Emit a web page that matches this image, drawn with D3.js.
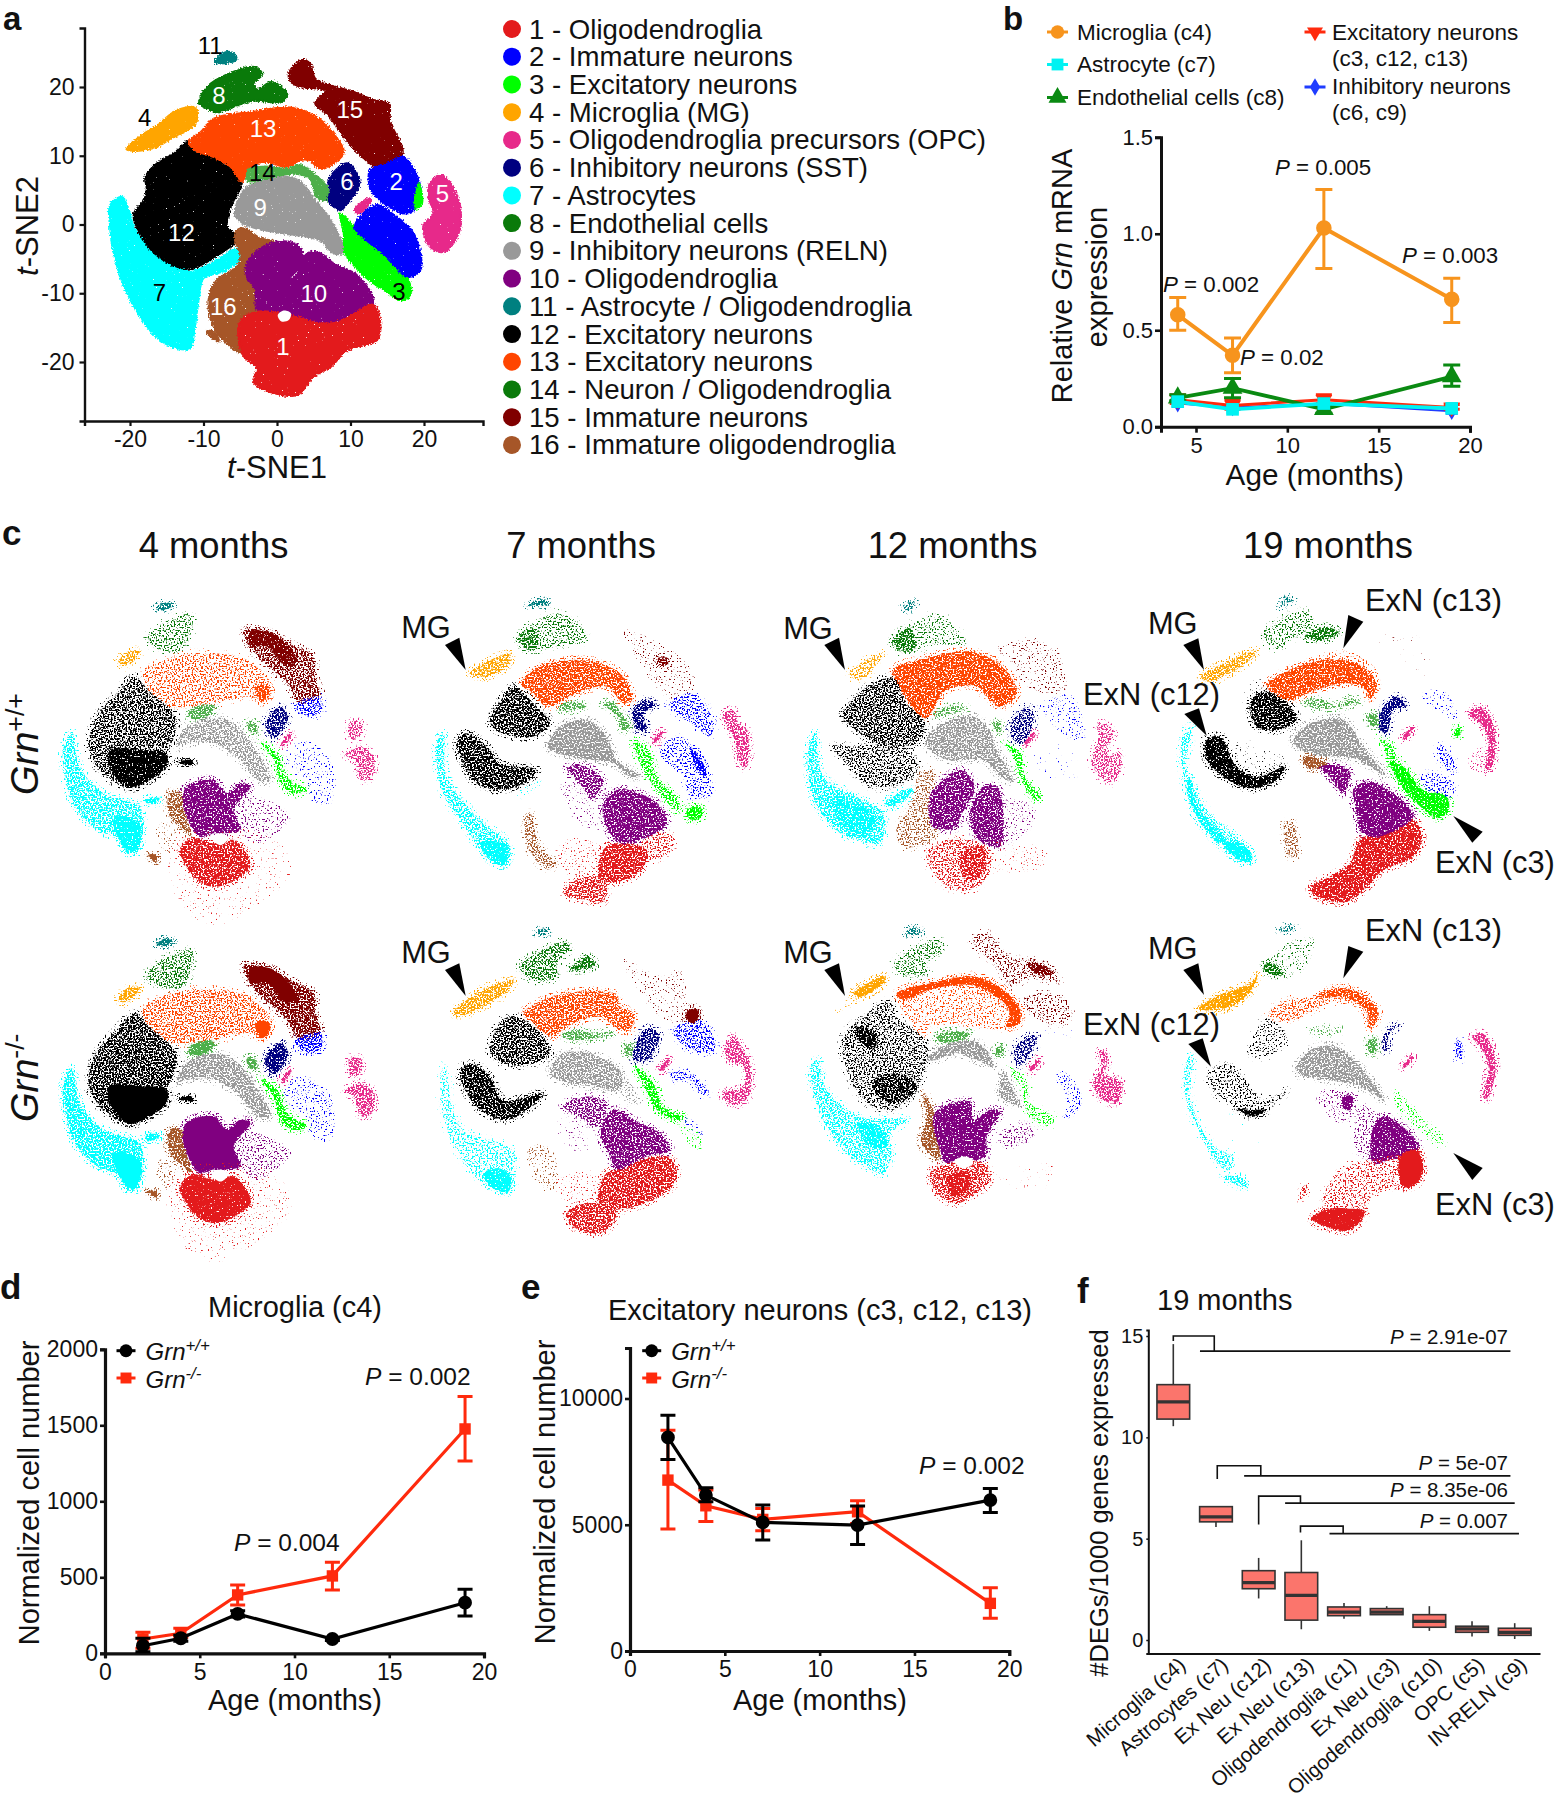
<!DOCTYPE html>
<html><head><meta charset="utf-8">
<script src="https://cdn.jsdelivr.net/npm/d3@7"></script>
<style>
html,body{margin:0;padding:0;background:#fff}
svg{display:block}
text{font-family:"Liberation Sans",Arial,sans-serif;fill:#111}
</style></head><body><svg id="c" width="1554" height="1800" viewBox="0 0 1554 1800"></svg>
<script>
// ---------- cluster key ----------
const clusterNames=["1 - Oligodendroglia","2 - Immature neurons","3 - Excitatory neurons","4 - Microglia (MG)","5 - Oligodendroglia precursors (OPC)","6 - Inhibitory neurons (SST)","7 - Astrocytes","8 - Endothelial cells","9 - Inhibitory neurons (RELN)","10 - Oligodendroglia","11 - Astrocyte / Oligodendroglia","12 - Excitatory neurons","13 - Excitatory neurons","14 - Neuron / Oligodendroglia","15 - Immature neurons","16 - Immature oligodendroglia"];
const clusterColors=["#e31a1c","#0000ff","#00ff00","#ffa500","#e7298a","#000080","#00ffff","#0a7a0a","#999999","#800080","#008080","#000000","#ff4500","#4daf4a","#800000","#a65628"];
const legendColors=["#e31a1c","#0000ff","#00ff00","#ffa500","#e7298a","#000080","#00ffff","#0a7a0a","#999999","#800080","#008080","#000000","#ff4500","#0a7a0a","#800000","#a65628"];

// ---------- panel a: cluster outlines in t-SNE units [cluster, x,y,...] ----------
const outlinesA=[
[7,[-22.7,2.8,-21.1,4,-20.2,2.1,-19.3,-.8,-16.8,-3.7,-13.6,-5.7,-11.8,-6.9,-8.6,-5.4,-5.4,-3.5,-5,-4.7,-6.8,-6.6,-10,-7.8,-10.6,-10.5,-11.3,-15.8,-11.8,-18,-13.6,-18,-16.3,-16.5,-18.6,-13.4,-20.8,-9,-22.2,-4.2,-22.7,-.3]],
[4,[-20.5,11,-18.1,13.2,-16.3,14.4,-13.6,16.6,-11.1,17,-10.8,15.6,-11.6,14.1,-14.5,12.5,-16.3,11.3,-19.5,10.7]],
[11,[-8.5,23.6,-7.5,24.8,-6.1,25,-5.5,24.1,-6.3,23.6]],
[8,[-10.6,17.6,-9.5,20,-6.8,21.8,-3.2,22.9,-2,21.9,-3.2,20.5,-2.7,19.6,-.7,20.7,1.4,18.9,.5,17.8,-3.2,18,-5.9,17.1,-8.2,16.3,-9.5,16.9]],
[15,[1.7,22.2,3.4,23.9,4.5,23.4,5.2,21.2,7.7,20.1,10.4,19.3,13.1,18.1,15.2,17.6,15.4,14.9,17,11.3,17,10.1,13.6,8.4,12.2,9.3,9.5,12.2,7,15.9,5.2,17.6,6.6,19.5,3.2,20,1.8,20.9]],
[12,[-17.9,6.9,-16.3,8.9,-14,10.3,-12.2,12,-10.9,10.8,-8.6,9.6,-6.3,8.1,-4.8,6,-5.9,3.5,-6.6,1.6,-6.8,-.3,-5.4,-2,-7.7,-4.2,-11.8,-6.4,-15.4,-5.2,-18.1,-2.3,-19.5,1.4,-18.1,3.5,-17.7,5.2]],
[13,[-10.4,13.4,-8.6,15.4,-3.2,16.4,1.8,17,5.4,15.6,7.7,13.2,9.1,10.5,7.7,8.9,5.9,8.1,4.5,9.3,3.2,9.4,1.4,8.4,-1.8,9.1,-3.9,8.1,-4.8,6.2,-6.3,8.4,-8.6,9.8,-11.1,10.8,-12,12]],
[14,[-3.9,7.9,-1.8,8.4,1.4,8.1,3.2,8.6,5,7.4,7,5,6.8,3.5,5.4,4,4.5,6.7,2.3,7.4,-1.4,6.7,-3.9,6.2]],
[9,[-5.7,1.4,-4.3,5.2,-1.4,6.4,1.4,6.9,3.2,6.2,5.2,3.5,7,1.1,9.1,-4,7.7,-4.2,5.9,-2.3,.9,-1.3,-1.8,-.8,-4.5,.1]],
[6,[7,6.4,9.5,8.9,11.1,6.9,11.1,5.5,9.5,3,8.6,2.1,7,3.5,7.3,5]],
[2,[12.7,7.9,15.2,8.9,17.2,9.8,19.5,5.5,19,2.6,17.4,1.6,13.1,4.5,12.5,6.2]],
[3,[8.6,1.6,10.4,-.3,12.2,-2.5,15,-4.9,17.7,-7.8,18.2,-10,17.2,-11,14.5,-9.5,11.8,-7.4,9.3,-4.2,9.1,-1.3]],
[3,[19.3,6,19.7,3,18.8,2.3]],
[2,[10.6,-.3,13.4,2.8,15.6,1.6,18.6,-1.3,19.5,-6.6,17.7,-7.6,15,-4.7,12.2,-2.3]],
[5,[20.8,6,22.2,7.2,23.5,6.2,24.9,2.6,24.7,-1.3,22.7,-4,20.8,-3.2,19.9,-.3,21.3,1.6,20.6,4]],
[5,[10.6,2.1,12.5,3.8,12.8,3.5,11.1,1.6]],
[16,[-5.4,-.8,-4.3,-.6,-2.3,-2,-.5,-2.5,-3.2,-4.7,-4.1,-7.1,-2.9,-10,-2.7,-12.4,-5,-14.1,-4.8,-18.7,-6.8,-17.3,-8.6,-14.9,-9.3,-11,-8.2,-8.1,-5.4,-6.1,-5,-4.2,-5.7,-2.3]],
[16,[-9.6,-15.6,-8.6,-15.6,-7.9,-17,-8.8,-16.5]],
[10,[-4.1,-5.7,-1.8,-3.2,1.4,-2.5,3.2,-3.5,3.4,-5.7,1.4,-8.1,2.7,-7.4,4.1,-4.2,5.9,-4.2,7.7,-5.7,10.9,-7.4,13.1,-11.5,8.6,-14.1,5.9,-14.4,2.3,-13.4,-2.7,-12.4,-2.9,-9.5,-4.1,-7.6]],
[1,[-5,-14.1,-2.7,-12.7,2.3,-13.4,5.9,-14.4,8.6,-14.1,13.1,-11.7,14,-13.9,13.6,-16.8,9.5,-18.3,7.3,-20.7,5,-22.1,2.7,-24.8,-1.8,-24,-3.2,-22.8,-2.7,-20.9,-4.5,-19.2,-5.2,-16.8]],
[0,[.1,-13.2,.9,-12.5,1.9,-12.9,1.6,-13.9,.6,-14.1]]
];
const clusterLabels=[["1",.8,-17.8,1],["2",16.2,6.2,1],["3",16.6,-9.8,0],["4",-18,15.5,0],["5",22.5,4.5,1],["6",9.5,6.2,1],["7",-16,-9.9,0],["8",-7.9,18.8,1],["9",-2.3,2.5,1],["10",5,-10.1,1],["11",-9.1,26,0],["12",-13,-1.2,1],["13",-1.9,13.9,1],["14",-2,7.5,0],["15",9.9,16.8,1],["16",-7.3,-11.9,1]];

// ---------- panel c: [cluster (0 = gap), share of area filled, outline x,y,...] in t-SNE units ----------
const wt4=[
[11,.7,[-8.3,23.9,-7,24.9,-5.8,24.4,-7.2,23.6]],
[8,.3,[-9.8,18.6,-7.3,21.4,-3,22.8,-4.3,16.9,-6.8,16.7]],
[4,.55,[-14,15,-12.5,16.7,-10.8,16.7,-11.8,15,-13.5,14.3]],
[15,.55,[4.8,20.3,8.3,20,11.8,18,15.3,15.8,15.5,12.5,16.3,9.2,13.3,8,11.3,11.4,10.3,12.5,6.3,16.7]],
[15,.9,[5.8,20,9.3,19.7,12.8,15.3,11.3,14.2,8.3,17.5,5.8,17.5]],
[2,.4,[12.5,7.8,16.3,9.2,16.3,6.4,13.8,6.1]],
[2,.1,[10.8,-.8,13.3,2,17.3,-.3,18.3,-3,17.8,-8.6,14.8,-8,14.3,-5.3,11.8,-3]],
[3,.55,[7.3,1.5,9.8,-.3,11.3,-4.2,14.3,-6.4,12.3,-7,10.3,-5.3,9.3,-1.4]],
[5,.5,[20.8,5,22.5,4.7,22,2.2,20.8,2.2]],
[5,.5,[20,-.6,22.3,.8,24.3,-.8,24,-4.2,22.5,-4.7,21.3,-1.4]],
[6,.65,[8,4.7,10.3,7.5,11.5,5.8,9.3,2.2]],
[9,.5,[-5.3,.8,-3.8,4.2,.3,5.8,3.3,4.7,6.3,.8,8.8,-4.7,6.8,-4.7,4.3,-1.4,.3,1.4,-3.8,1.4]],
[14,.7,[-3.3,6.9,-1.8,7.8,.5,7.5,-.8,5.8,-3.3,5.6]],
[14,.6,[5.3,5,6.5,5,6.8,3,5.5,3.6]],
[13,.3,[-9.8,10.8,-10.3,13.3,-6.3,15.6,.3,16.4,5.8,15,9,10.8,7.8,8.3,5.3,9.2,.3,8,-6.3,7.5,-8.8,9.2]],
[13,.8,[6.5,10.8,8.3,11.1,8.8,9.7,7.5,8.3]],
[12,.5,[-18.5,1.1,-17.3,5.8,-14.5,9.4,-11.5,12.5,-9.5,10.3,-5.3,5.6,-6.8,-.3,-9.8,-5,-12.3,-6.1,-16.3,-3.6,-17.8,-1.4]],
[12,.9,[-15.3,.3,-10.8,.3,-6.8,-.3,-6.8,-2.5,-10.3,-5.3,-12.8,-5.8,-15.3,-2.5]],
[12,1,[-5,-1.7,-3,-1.4,-2.8,-2.1,-4.5,-2.1]],
[7,.55,[-22.3,.3,-21,3.3,-19.8,-2.5,-16.3,-6.9,-10.8,-9.2,-10.3,-12.5,-11.3,-16.9,-12.8,-16.9,-13.3,-14.7,-17.3,-13,-20.8,-8.6,-22,-3.6]],
[7,.9,[-14.8,-10.8,-10.8,-12,-11.3,-16.4,-12.8,-16.4]],
[7,.7,[-9.8,-7.8,-7.8,-7.8,-8.3,-8.6,-9.8,-8.6]],
[16,.6,[-6.3,-6.9,-4.5,-6.9,-3.8,-10.8,-3,-14.2,-4.3,-13,-6.3,-10.8]],
[16,.1,[-7.8,-11.9,-5.3,-13,-6.3,-16.9,-8.3,-14.2]],
[16,1,[-9.5,-17.2,-8.3,-17.2,-8.3,-18.3]],
[10,.15,[3.3,-7.5,8.3,-8,11.8,-10.8,6.8,-15.3,4.3,-13]],
[10,.8,[-3.8,-5.8,.3,-4.7,2.3,-6.9,4.3,-5.3,5.8,-5.8,3.3,-9.7,4.3,-13,1.8,-13.6,.3,-13.6,-1.8,-14.2,-3.3,-11.9,-4.3,-8.6]],
[1,.05,[-6,-14,9,-14,12,-20,5,-27,0,-29,-5,-25]],
[1,.75,[-4.8,-16.4,-2.8,-14.4,.3,-15.3,3.3,-14.7,4.5,-15.8,5.8,-19.2,.8,-22.5,-1.8,-21.7,-3.8,-19.2]],
[0,1,[0,-14.4,1.3,-13.6,2.5,-14.4,1.3,-15.6]]
];
const wt7=[
[11,.7,[-8.3,23.8,-7,24.8,-5.5,24.8,-5.5,24,-7,24]],
[8,.25,[-10,18.4,-7.5,21,-3.5,22.6,.3,19.3,0,17.9,-4,17,-7.5,16.5]],
[8,.6,[-9.8,18.4,-7.5,20.1,-6.8,17,-8.3,16.5]],
[4,.6,[-17,12.6,-14,14.8,-11,15.9,-11.3,14,-14.5,12.1]],
[15,.08,[6,19.8,10.5,18.2,15,14.8,17,10.4,13.5,8.2,11,10.4,8.5,14.3]],
[15,.7,[11,15.1,12.8,15.1,12.5,14,11.3,14]],
[2,.3,[12.8,7.3,15.5,9.3,17.3,8.7,19.5,4.3,19,2.1,17,3.7,14,5.9]],
[2,.2,[11.5,.4,14,2.1,17,-.2,18.8,-4.1,19.3,-7.7,16,-7.9,15,-4.6,12,-1.8]],
[2,.75,[16,.1,17.5,-1.3,18.5,-4.6,17.3,-3.8]],
[3,.5,[7.5,1.5,9.8,-.2,11,-4.6,14.5,-9.1,14,-10.2,11.5,-7.4,9,-3.5]],
[3,.75,[15.5,-10.2,17.5,-9.6,17.8,-11.3,16,-11.8]],
[5,.6,[21,5.9,22.5,6.5,23.3,4.3,24.5,3.2,24.5,-2.9,23.8,-2.9,22.5,2.1,21.3,4.3]],
[6,.7,[7.5,6.5,9.5,8.2,10.8,7.3,9,5.9,9.5,3.2,8,3.2,7.5,4.8]],
[9,.75,[-5.3,.4,-3.5,3.7,.5,4.8,3.5,2.1,5,-1.8,8.5,-4.6,7,-4.6,4.5,-2.4,-.5,-1.6,-4.5,-.4]],
[14,.6,[-3.6,7.1,-2,7.9,.5,7.1,-1.5,6.5,-3.5,6.5]],
[14,.7,[3,7.6,4.5,7.6,6,5.4,7,3.7,5.8,3.2,5.5,5.1]],
[13,.7,[-9.3,10.7,-7.5,13.2,-2.5,14.8,2.5,14.3,6,12.1,7.3,8.2,6,7.6,3.5,10.4,-1,9.3,-5.5,7.1,-7.5,9.3]],
[12,.65,[-14,4.3,-12,8.7,-10.5,10.4,-7.5,7.6,-5,4.3,-7.5,2.1,-12,2.6]],
[12,.7,[-19,.9,-17.8,2.6,-14.5,.4,-12.5,-2.4,-7,-3.5,-8.5,-5.4,-13,-6.8,-16.5,-5.2,-18.3,-1.8]],
[7,.5,[-22,.9,-21,2.6,-20.5,-4.6,-16,-11.3,-11,-16.3,-11.8,-19.3,-14,-18.5,-18,-12.4,-21,-7.4]],
[7,.9,[-15.5,-15.7,-13.5,-15.2,-11.3,-16.3,-11.8,-19.3,-13.5,-18.8]],
[7,.1,[-10,-7.4,-6,-5.2,-6.5,-6.3,-9.5,-8.2]],
[16,.4,[-8.8,-11.8,-8,-10.7,-6.5,-16.3,-4,-19.1,-5.5,-19.9,-7.8,-17.4]],
[10,.65,[-2.5,-3.2,-.5,-2.7,3,-5.2,1.3,-8.2,-.5,-5.7]],
[10,.08,[-3.5,-5.7,-.5,-6.3,2.5,-13.5,-1,-11.8]],
[1,.08,[-4,-15.7,2.5,-15.7,2.5,-21.3,-2.5,-20.7]],
[1,.3,[9.5,-14.1,13.5,-14.6,13.5,-16.3,10.5,-18.5,8.5,-17.4]],
[1,.75,[3,-16.8,5,-15.7,9.5,-16.8,9,-19.6,6.5,-21.8,2.5,-21.8]],
[1,.55,[-3,-24.1,-1,-21.8,2.5,-21.3,3.5,-22.4,3,-25.4,.5,-25.2]],
[10,.8,[3,-9.1,5,-6.8,8.5,-7.4,11.5,-9.6,12.5,-12.4,8.5,-15.2,5.5,-15.7,3.5,-12.9]]
];
const wt12=[
[11,.5,[-7.8,24,-6.3,25,-6,24.3,-7.3,23.4]],
[8,.2,[-9.8,18.4,-6.8,20.9,-2.8,22.9,.8,19.6,1.8,17.9,-3.8,17.6,-6.8,16.2,-8.8,16.8]],
[8,.65,[-9.3,18.4,-6.8,20.4,-5.8,17.3,-7.8,16.5]],
[4,.4,[-15.8,12.9,-13.3,15.1,-10.8,16.2,-11.8,14.3,-14.3,11.8]],
[15,.1,[6.3,16.8,10.8,18.7,15.3,17.3,15.8,15.1,16.8,10.1,13.3,9.6,10.3,11.2,8.3,15.1]],
[2,.1,[12.3,7.3,17.3,9.3,19.5,4.6,19.5,2.3,16.3,2.3,13.8,5.7]],
[2,.04,[11.3,-1,14.8,1.2,18.3,-1.6,18.3,-4.3,15.3,-4.9,12.3,-3.2]],
[3,.55,[7.5,1.2,9.8,-.4,10.5,-4.3,12.8,-7.7,12,-8.2,10,-4.9,8.8,-1]],
[5,.45,[21.5,4.6,23.8,3.4,22.8,-.4,24.8,-.4,24.5,-4.3,23,-5.4,20.5,-2.1,21.5,1.8]],
[6,.5,[8.3,4.3,10.8,7.3,11.8,5.9,10.3,1.2,8.8,1.8]],
[9,.6,[-4.5,1.5,-3.3,3.4,1.8,5.9,4.8,4,6.3,.1,8.8,-5.2,6.8,-4.3,4.3,-1.6,-.8,-1.6,-3.8,.1]],
[14,.5,[-3.3,6.2,-1.3,7.3,1.8,7.1,.3,6.5,-2.8,5.7]],
[14,.6,[5.8,4.6,6.8,4.8,6.8,2.9,6,3.4]],
[13,.75,[-9.3,13.4,-4.3,15.4,2.3,16.5,6.8,14.3,9.3,9.6,6.8,7.3,5.3,8.4,3.3,10.7,-1.3,10.1,-4.5,5.4,-7.8,9.6]],
[12,.5,[-16.8,5.7,-13.8,10.1,-9.3,12.1,-7.3,7.9,-4.5,4.6,-5.8,1.2,-11.8,1.2,-14.8,3.4]],
[12,.35,[-18.3,.7,-15.3,.7,-7.8,.7,-5.5,-2.7,-7.8,-5.4,-12.8,-6,-15.8,-2.7]],
[7,.55,[-22,.1,-21,2.9,-19.8,-4.3,-14.8,-7.7,-10.8,-10.4,-11.3,-15.4,-14.3,-14.9,-17.8,-13.2,-21.3,-7.7]],
[7,.8,[-18.3,-7.7,-14.3,-8.8,-11.8,-11,-13.3,-14.3,-16.8,-12.7]],
[7,.7,[-10.5,-8.8,-6.8,-6.3,-6.3,-6.8,-9.3,-9.3]],
[16,.3,[-4.8,-3.2,-2.8,-3.8,-3.3,-7.7,-2.8,-14.3,-7.8,-16,-8.8,-13.2,-6.8,-9.3]],
[10,.75,[-3.8,-7.7,-2.3,-5.4,.8,-3.2,3,-6,.8,-11,.3,-12.7,-3.3,-12.7]],
[10,.75,[2.3,-9.9,4.3,-6,6.3,-6,7.3,-11.6,6.8,-16,3.3,-14.6]],
[10,.1,[7.3,-8.2,11.8,-9.3,11.3,-13.2,7.3,-15.4]],
[1,.35,[-4.3,-17.1,-.8,-14.9,2.8,-14.9,5.3,-17.1,4.8,-21,2.3,-23.2,-1.8,-22.1]],
[1,.7,[.8,-17.1,4.3,-16,4.3,-20.4,2.8,-21.6,1.3,-21]],
[1,.07,[5.3,-15.4,13.8,-17.1,12.3,-19.9,5.3,-19.3]]
];
const wt19=[
[11,.6,[-8,23.1,-7,24.8,-6,24.2,-7.3,23.7]],
[8,.25,[-10.8,18.2,-8,21,-4,22.6,-2.5,19.8,.8,19,-1.5,17.9,-5,18.4,-8.5,16.2]],
[8,.7,[-4.3,18.2,-1,19.8,.8,18.8,-2,17.6]],
[4,.6,[-19.8,11.5,-16,14,-11.5,15.9,-12.5,14.3,-16,11.8,-19,10.7]],
[15,.03,[5.3,19.3,9.5,18.7,14,17.6,14.5,11.5,9.5,14.8]],
[2,.1,[13,8.2,16.5,9.3,18.8,4.3,15.5,6]],
[3,.8,[18.3,2.6,19,3.2,18.8,1.5,18.1,1.8]],
[2,.25,[15.5,-.2,16.8,-.2,18.3,-4.1,17,-4.1]],
[2,.2,[13,-5.2,15.5,-4.6,18.3,-6.8,17,-9.1,14.5,-7.9]],
[3,.85,[8.5,-2.7,10.5,-3.5,13.5,-7.4,17,-8.5,17.3,-10.7,15.8,-12.1,12.5,-9.6,10,-6.3]],
[3,.5,[7,1.5,8.8,-.2,9.5,-2.4,8.5,-2.4,7.5,.1]],
[5,.75,[20.3,5.4,22,6.5,23.8,4.3,24.3,.4,23.8,-3.5,22.8,-4.1,23.3,.9,22,3.7]],
[5,.15,[20.3,-2.4,22.5,-.2,22.5,-4.1,21,-4.3]],
[6,.75,[7,2.6,7.3,6,9.5,8.2,10.8,6.5,9,6,8,2.1]],
[9,.7,[-6,.9,-3.5,3.7,1.5,4.3,4.5,-.2,7.8,-4.9,5.5,-3.5,3,-2.1,-2.5,-1.6,-5.5,-.2]],
[14,.5,[-4.3,7.3,-2.5,7.9,.5,6.8,2.5,7.9,4,7.3,.5,6.4,-2.8,6.2]],
[14,.7,[5.1,4.8,6.3,5.4,6.8,3.4,5.8,3.2]],
[13,.15,[-8,11.5,1.5,15.9,6.5,12.6,6.5,10.4,-.5,9.8]],
[13,.75,[-10,10.1,-7.5,12.1,-1.5,14.3,3.5,13.7,6.5,10.4,5.5,7.9,4.5,9.8,1.5,10.4,-4,8.7,-6.5,7.6,-9,8.7]],
[12,.05,[-13.5,9.3,-10.5,11.5,-8.5,2.6,-13,5.4]],
[12,.75,[-12.5,7.1,-10.5,9,-7.5,7.6,-5.5,4.3,-8.5,2.6,-11.5,3.2]],
[12,.06,[-14.5,.9,-7,-2.4,-7.5,-3.5,-15,-2.9]],
[12,.85,[-19,1,-17,1.5,-14.5,-3.5,-11.5,-5.2,-7.3,-3.5,-8.5,-5.7,-12.5,-7.1,-16.5,-5.2,-19,-2.4]],
[7,.4,[-22.5,2.1,-21.3,3.2,-22,-4.1,-18.5,-11.3,-13,-16.8,-12.3,-19.1,-14,-19.3,-18,-15.2,-21.5,-8.5,-22.8,-2.9]],
[7,.9,[-16.5,-16.3,-14.5,-16,-12.3,-17.9,-12.3,-19.3,-14,-19.1]],
[7,.75,[-21.5,-5.2,-20,-10.7,-16,-15.7,-17,-16.3,-20.5,-11.8,-22,-7.4]],
[16,.8,[-4.5,-1.8,-1,-2.9,-1,-3.5,-4,-3.5]],
[16,.4,[-7.3,-12.9,-6,-12.9,-5.5,-18.5,-6.5,-18.5]],
[10,.8,[-2,-3.5,1.5,-3.5,2.5,-4.6,1.5,-7.9,-.5,-5.2]],
[1,.8,[4,-15.7,9,-13.5,12,-12.4,13.3,-15.2,12,-18.5,7.5,-20.7,4.5,-24.1,2,-26,-2,-25.4,-3.5,-23.8,-.5,-21.8,2.5,-19.6]],
[10,.85,[3,-7.4,5,-6,9,-7.9,12,-11.8,9,-14.3,6,-15.2,4,-14,3.5,-10.7]]
];
const ko4=wt4.map(r=>[r[0],r[0]===0?1:Math.min(1,r[1]*1.25),r[2]]);
const ko7=[
[11,.7,[-8,24.1,-7,24.8,-6.3,24.3,-7.3,23.7]],
[8,.45,[-10.5,18.4,-8,20.7,-3.5,22.6,-3,21.5,-5,19,-5,16.8,-8.5,16.2]],
[8,.7,[-3,17.9,-.3,20.1,.8,18.7,-1.5,17.9]],
[4,.65,[-20.5,10.7,-16.5,14.3,-11.5,16.2,-12,14.8,-16,11.8,-19,10.4]],
[15,.08,[5,19.8,10.5,16.8,13.5,17.9,15,11.8,16,9,12.5,9,9.5,11.2]],
[2,.35,[12.5,7.9,16.5,9.6,18.8,5.1,17.8,4,14.5,5.1]],
[15,1,[14.5,10.9,15.8,11.5,16.4,10.1,15.5,9,14.5,9.6]],
[2,.3,[12,.7,15,.7,17.8,-2.7,16.8,-2.9,15,-.4,12.5,-.4]],
[2,.15,[14,-6.6,17.5,-9.3,15.5,-9.3]],
[3,.7,[6.8,1.8,9.5,-1,11,-4.9,14,-6.6,13,-7.1,10,-5.4,8.5,-2.1]],
[3,.12,[13.5,-7.7,17,-9.9,16.5,-12.1,15,-11.6]],
[5,.6,[20.3,5.1,21.5,6.8,23,4.6,24,2.3,23.8,-3.2,21.5,-4.6,19.8,-2.7,23,-1.6,23,1.8,20.8,2.9]],
[6,.65,[7,5.9,8.5,8.2,10.3,7.3,10,5.1,8.5,2.9,6.5,2.9]],
[9,.6,[-6,1.2,-4,4,-.5,4,4.5,1.2,4.5,-2.1,1,-1.6,-3,-1,-5.5,.1]],
[9,.2,[4.5,1.2,7.5,-4.3,6,-4.3,4.5,-2.1]],
[14,.6,[-4.3,7.1,-2.5,7.9,.5,7.3,3.5,7.6,3,7.1,-2.5,6.2]],
[14,.7,[5.3,5.4,6.3,5.4,6.3,3.7,5.3,4]],
[13,.6,[-10,10.7,-7,12.9,-1.5,14.3,4,13.7,4.5,11.8,6.5,10.7,6,7.9,4.5,7.9,1.5,10.1,-2.5,9,-6,6.8,-8.5,9]],
[12,.55,[-15,4.6,-13,9.6,-11,10.1,-7,6.8,-6,4,-8.5,2.3,-13,2.3]],
[12,.75,[-19.5,.7,-18,2.3,-15,.1,-13,-3.8,-7,-2.7,-11,-6.6,-13,-7.1,-17,-4.9]],
[7,.3,[-22.3,-.4,-21.8,2.3,-19.5,-8.2,-11.5,-12.1,-11.3,-16,-12,-18.8,-16,-17.7,-20,-12.1,-22.3,-4.9]],
[7,.9,[-16,-16,-13.5,-15.2,-11.8,-16.6,-12.3,-19.1,-15,-18.2]],
[16,.12,[-9.5,-12.1,-6,-11.6,-5,-18.2,-7,-18.8]],
[10,.5,[-4,-4.9,-.5,-3.2,2.5,-4.3,1,-8.2,-1.5,-6.6]],
[10,.06,[-5,-7.1,-1.5,-7.1,-.5,-12.7,-3.5,-11.6]],
[1,.08,[-5,-17.1,2,-16,1.5,-21,-4,-20.4]],
[1,.7,[2,-16.6,4.5,-14.9,11.5,-13.2,13,-15.4,12.3,-18.2,6.5,-21.6,1.5,-21.6]],
[1,.65,[-3.5,-22.7,-.5,-21,4,-22.1,3.5,-24.3,1.5,-26,-2.5,-24.9]],
[10,.75,[1.5,-9.3,3.5,-5.4,7.5,-7.7,10.5,-9.3,12,-12.1,8.5,-13.2,4,-15.4,3,-13.2]]
];
const ko12=[
[11,.6,[-8.1,24.1,-7,25,-5.8,24.3,-7,23.7]],
[8,.3,[-10,18.7,-7.5,21.2,-3,22.9,-2.3,21.2,-5,19,-5,17.3,-8,16.8]],
[4,.9,[-16,14,-13.5,15.9,-11.3,16.8,-11.5,15.7,-15,13.4]],
[4,.1,[-18.8,10.9,-16,13.7,-15,12.9,-17.3,11.2]],
[15,.25,[1.8,22.9,4,24,7.5,20.1,12.5,19,15,15.7,10.5,16.8,7.5,15.1,6,17.9]],
[15,.8,[10,19,12.5,18.7,14,17.3,11.5,17.1]],
[15,.2,[9.5,12.9,12.5,14,16,12.9,16.5,9,13,9,10.5,10.7]],
[2,.03,[11.5,8.4,16.5,8.4,17.5,6.8,11.5,7.9]],
[2,.15,[15,1.2,18,-2.1,18,-4.9,15.5,-7.1,16,-3.2,14.5,-.4]],
[3,.3,[7.3,1.8,10,-.4,10.5,-4.3,14,-6.6,13.5,-8.2,10,-6,9.3,-2.1]],
[5,.6,[20.8,4.3,22,4,22,1.8,21.5,.7,24.3,-1,23.5,-4.3,20.8,-3.2,20,-1,21.3,1.8]],
[6,.5,[8,4,10,6.8,11.5,6.8,11,4.6,9,2.1]],
[9,.7,[-5,2.9,-3.5,4.6,1,6.2,3.5,5.1,5,1.8,2.5,2.9,-.5,4,-3.5,2.9]],
[9,.6,[6,-1,6.5,.9,8,-2.1,9,-4.6,6,-3.2]],
[14,.7,[-3.5,6.8,-2,7.6,1.5,7.3,1,6.5,-3,5.9]],
[14,.8,[5.3,4.8,6.3,5.1,6.5,4,5.5,3.7]],
[13,.2,[-9.5,14,-3.5,15.9,2,16.8,6.5,14.6,9,11.2,8.8,9,6.5,7.9,2.5,8.4,-4.5,8.4,-5.5,5.7,-7,8.4]],
[13,.9,[-9.5,14,-3.5,15.9,2,16.8,6.5,14.6,9,11.2,8.8,9,7,8.4,7.5,10.7,5.5,13.4,1.5,15.4,-4.5,14.6,-8.5,12.9]],
[12,.35,[-17.5,6.8,-14.5,10.1,-10.5,12.9,-9.5,10.1,-5,5.7,-6.5,-2.1,-10,-5.4,-14.5,-3.8,-17.3,2.3]],
[12,.8,[-15.5,8.4,-12.5,7.3,-13,4.6,-15.5,6.8]],
[12,.7,[-12.5,.1,-7.5,.1,-6.5,-2.1,-10,-4.3,-13,-2.1]],
[7,.45,[-22.3,1.8,-21.3,2.9,-20,-2.1,-15,-6.6,-8,-7.1,-10.5,-9.3,-10.3,-12.7,-11.5,-16,-14,-14.9,-18,-11.6,-21.5,-4.3]],
[7,.8,[-15.5,-7.7,-12,-8.2,-11,-11.6,-13.5,-11.6]],
[16,.7,[-5.5,-2.7,-4,-5.4,-3.5,-9.9,-3,-13.8,-5.8,-11,-5,-6.6]],
[1,.04,[5.5,-16,14,-14.3,13,-18.2,6.5,-17.7]],
[1,.55,[-4.5,-16,-1.5,-14.3,3.5,-14.3,4.5,-17.1,2.5,-19.3,-.5,-21,-3.5,-19.3]],
[1,.85,[-2,-16.6,1.5,-16,1,-19.3,-1,-19.9]],
[10,.2,[6,-9.3,10,-7.7,11,-9.9,6.5,-11.6]],
[10,.85,[-4,-6.6,-2.5,-4.9,1.5,-4.1,2,-7.1,4.5,-5.4,6,-5.7,4,-9.9,4,-12.7,2.5,-13.8,.5,-13.2,-2,-14.3,-3,-12.1]],
[0,1,[-.8,-14.1,1,-13.2,2,-14.3,.5,-15.2]]
];
const ko19=[
[11,.5,[-8.3,23.9,-6.5,24.8,-5.6,24.3,-7,23.7]],
[8,.12,[-10.5,17.9,-7,21.8,-3,22.6,-4.5,17.3,-7.8,16.2,-10,17.3]],
[8,.7,[-10.5,17.6,-9.5,18.7,-7.5,16.5,-9,16.5]],
[4,.85,[-20.3,10.9,-17,13.2,-12.5,15.1,-11.3,16.5,-12.5,13.7,-15.5,11.2,-19,10.6]],
[5,.7,[20.8,6.2,22.3,6.8,24,4,24.3,.1,23,-4.1,22.5,-3.8,23.3,1.2,22,4.6]],
[2,.4,[18.5,5.7,19.3,5.1,19.1,2.3,18.5,2.9]],
[6,.5,[7.3,5.7,8.5,7.6,10,8.2,8.5,6.8,8,3.7,7.5,4]],
[3,.2,[9,-2.4,11,-4.3,14,-8.2,17,-11,16.3,-11.8,12.5,-8.8,9.5,-5.4]],
[9,.65,[-5.5,1.2,-3.5,4,.5,4.6,4,1.2,7.8,-4.6,5.5,-2.9,2.5,-1.6,-2.5,-.7,-5.3,.1]],
[14,.2,[-3.5,7.6,1.5,7.9,.5,6.5,-3.5,6.8]],
[14,.7,[5.3,5.7,6.5,5.7,6.3,3.4,5.5,3.4]],
[13,.3,[-9.8,10.1,-7,12.3,-2.5,12.9,.5,14.6,4.5,13.4,6.8,10.1,5.5,7.6,4.8,10.1,1.5,12.3,-3,10.7,-6,9,-9,9]],
[13,.7,[-2.5,12.9,.5,14.3,4.5,13.2,6.8,10.1,5.5,7.6,4.8,10.7,2,12.6]],
[12,.2,[-12,6.2,-10,9.3,-7,6.8,-7.3,4.6,-10.5,2.9,-12.8,2.9]],
[12,.25,[-18.8,.7,-15.5,1.5,-13.5,-.4,-10.5,-4.3,-7,-2.7,-8.5,-4.9,-12,-7.1,-15,-5.4,-18,-2.7]],
[12,.9,[-14.5,-5.7,-12.5,-6,-10,-6,-12,-7.1]],
[7,.4,[-22,2.3,-21,3.2,-21.5,-3.8,-18,-12.1,-15,-13.8,-15.5,-16,-17,-15.4,-20,-9.9,-22,-4.3]],
[7,.55,[-16.5,-17.1,-13.5,-17.4,-13,-18.8,-15,-18.2]],
[7,.02,[-17.5,-6,-10.5,-8.8,-11,-15.4,-14,-18.8,-16,-14.3]],
[10,.15,[-2.8,-3.8,0,-2.4,3,-3.8,2.5,-7.7,1.5,-8.2,0,-7.7,-2,-4.9]],
[10,.9,[1.5,-3.8,2.9,-3.8,2.5,-6,1.5,-5.7]],
[10,.2,[4,-5.4,6.5,-6.6,6,-14.3,3.5,-13.2]],
[10,.85,[6,-8.8,7.5,-7.1,11,-9.3,12.8,-12.4,8.5,-14.3,6,-14.9]],
[1,.25,[1,-16,6,-14.3,10.5,-13.8,10.5,-18.8,6.5,-19.9,3.5,-22.7,-1.5,-21.6]],
[1,1,[10,-13.8,12.5,-12.7,13.5,-15.4,12.5,-18.2,10.5,-18.8]],
[1,.95,[-3.3,-24.1,-.5,-22.4,2,-22.4,4.8,-22.9,2.5,-26,-.5,-25.7]],
[1,.5,[-5,-20.4,-4.3,-18.5,-4,-18.8,-4.8,-21]]
];
const slash=[5,.85,[10.4,1.2,11.7,3,12,2.9,10.7,1]];
const smallPanels=[
 {regions:wt4,cx:211.7,cy:751.7},{regions:wt7,cx:583.3,cy:749},{regions:wt12,cx:955,cy:750.7},{regions:wt19,cx:1333.3,cy:745.7},
 {regions:ko4,cx:211.7,cy:1088},{regions:ko7,cx:590,cy:1077.3},{regions:ko12,cx:960,cy:1077.3},{regions:ko19,cx:1333.3,cy:1074}];
const columnTitles=[["4 months",213.5],["7 months",581],["12 months",952.6],["19 months",1328]];
const calloutLabels=[["MG",426,638,"middle"],["MG",808,639,"middle"],["MG",1172.7,634,"middle"],["ExN (c13)",1365,611,"start"],["ExN (c12)",1083,705,"start"],["ExN (c3)",1435,873,"start"],
 ["MG",426,963,"middle"],["MG",808,963,"middle"],["MG",1172.7,959,"middle"],["ExN (c13)",1365,941,"start"],["ExN (c12)",1083,1035,"start"],["ExN (c3)",1435,1215,"start"]];
const calloutArrows=[[445,645,459.3,637.7,465.7,670],[824.3,645,839,637.7,845,670],[1183.3,645,1198.3,638.3,1204,670],[1348.3,615,1363.3,621.7,1343.3,648.3],[1184.3,714,1199,708.3,1206.7,735.7],[1453.3,816,1482.7,831.7,1472.3,842.7],
 [445,970,459.3,963.3,465.7,996],[824.3,970,839,963.3,845,996],[1183.3,970,1198.3,963.3,1204,995],[1348.3,946,1363.3,951.7,1343.3,978.3],[1188.3,1044,1202.7,1038.3,1211,1066.7],[1453.3,1153,1482.7,1168,1472.3,1180]];

// ---------- panel b ----------
const bAges=[4,7,12,19];
const bMicroglia=[.58,.37,1.03,.66], bMicrogliaHi=[.67,.46,1.23,.77], bMicrogliaLo=[.5,.28,.82,.54];
const bEndo=[.15,.2,.09,.26], bEndoHi=[.165,.25,.11,.32], bEndoLo=[.135,.15,.07,.21];
const bExc=[.14,.11,.14,.1], bExcHi=[.165,.14,.165,.115], bExcLo=[.12,.09,.12,.09];
const bAstro=[.13,.09,.12,.095], bAstroHi=[.15,.105,.14,.11], bAstroLo=[.11,.075,.1,.08];
const bInh=[.12,.1,.12,.08], bInhHi=[.13,.11,.13,.09], bInhLo=[.105,.09,.11,.07];
const bPvalues=[["0.002",1163,292],["0.005",1275,175],["0.003",1402,263],["0.02",1240,365]];

// ---------- panels d, e ----------
const deAges=[2,4,7,12,19];
const dWT=[50,99,259,94,333], dWTHi=[99,118,280,104,421], dWTLo=[11,80,238,84,246];
const dKO=[94,132,384,509,1476], dKOHi=[138,165,450,599,1689], dKOLo=[33,105,318,417,1265];
const eWT=[8456,6174,5092,4987,5976], eWTHi=[9340,6464,5778,5739,6438], eWTLo=[7586,5910,4393,4222,5488];
const eKO=[6768,5752,5211,5515,1887], eKOHi=[8747,6372,5646,5950,2507], eKOLo=[4828,5132,4763,5053,1293];

// ---------- panel f ----------
const fCats=["Microglia (c4)","Astrocytes (c7)","Ex Neu (c12)","Ex Neu (c13)","Oligodendroglia (c1)","Ex Neu (c3)","Oligodendroglia (c10)","OPC (c5)","IN-RELN (c9)"];
const fWhiskLo=[10.55,5.58,2.05,.53,1.05,1.25,.45,.17,.05];
const fQ1=[10.9,5.83,2.53,.98,1.2,1.25,.63,.38,.23];
const fMed=[11.75,6.08,2.83,2.2,1.38,1.38,.92,.55,.38];
const fQ3=[12.6,6.58,3.42,3.33,1.63,1.55,1.25,.68,.58];
const fWhiskHi=[14.6,6.58,4.05,4.92,1.83,1.67,1.67,.92,.83];
// [left idx, left foot, top, right idx, rule y, rule from, rule to, p text, text y]
const fBrackets=[[0,14.75,15,.96,14.25,.625,7.9,"2.91e-07",14.6],[1.03,7.95,8.6,2.05,8.1,1.66,7.9,"5e-07",8.4],[2,5.7,7.1,2.98,6.75,2.62,8,"8.35e-06",7.05],[2.98,5.3,5.62,3.98,5.25,3.66,8.1,"0.007",5.55]];

// ===================== drawing =====================
const svg=d3.select("#c"), defs=svg.append("defs");
const filterCache={};
function noiseFilter(d,seed,rough){
  const id="f"+seed+"_"+Math.round(d*1000)+"_"+rough;
  if(filterCache[id])return id; filterCache[id]=1;
  const f=defs.append("filter").attr("id",id).attr("x","-40%").attr("y","-40%").attr("width","180%").attr("height","180%").attr("color-interpolation-filters","sRGB");
  f.append("feTurbulence").attr("type","fractalNoise").attr("baseFrequency",.62).attr("numOctaves",1).attr("seed",seed).attr("result","n");
  f.append("feDisplacementMap").attr("in","SourceGraphic").attr("in2","n").attr("scale",rough).attr("xChannelSelector","R").attr("yChannelSelector","G").attr("result","s");
  const dd=Math.max(.005,Math.min(.995,d));
  const t=.5+.125*(Math.log((1-dd)/dd)/1.7), k=14;
  f.append("feColorMatrix").attr("in","n").attr("type","matrix").attr("values",`0 0 0 0 0 0 0 0 0 0 0 0 0 0 0 0 0 0 ${k} ${-k*t+.5}`).attr("result","m");
  f.append("feComposite").attr("in","s").attr("in2","m").attr("operator","in");
  return id;
}
const pairs=a=>d3.range(0,a.length,2).map(i=>[a[i],a[i+1]]);
const F='"Liberation Sans",Arial,sans-serif';
function txt(g,s,x,y,size,o={}){const t=g.append("text").attr("x",x).attr("y",y).attr("font-size",size).text(s);
  if(o.anchor)t.attr("text-anchor",o.anchor); if(o.weight)t.attr("font-weight",o.weight); if(o.style)t.attr("font-style",o.style); if(o.fill)t.style("fill",o.fill); if(o.rot!=null)t.attr("transform",`rotate(${o.rot} ${x} ${y})`); return t;}
function styleAxis(g,fs,sw,tw){g.select(".domain").attr("stroke","#111").attr("stroke-width",sw).attr("fill","none");
  g.selectAll(".tick line").attr("stroke","#111").attr("stroke-width",tw);
  g.selectAll(".tick text").attr("font-size",fs).style("fill","#111").attr("font-family",F);}
function mixed(g,parts,x,y,size,o={}){const t=g.append("text").attr("x",x).attr("y",y).attr("font-size",size);
  if(o.anchor)t.attr("text-anchor",o.anchor); if(o.rot!=null)t.attr("transform",`rotate(${o.rot} ${x} ${y})`);
  parts.forEach(p=>{const s=t.append("tspan").text(p[0]); if(p[1])s.attr("font-style","italic"); if(p[2]){s.attr("font-size",size*.7).attr("dy",-size*.38);} });
  return t;}
[["a",3,30,33],["b",1003,30,33],["c",2,545,35],["d",0,1299,35],["e",521,1299,35],["f",1077,1303,35]].forEach(l=>txt(svg,l[0],l[1],l[2],l[3],{weight:"bold"}));

// ---- a ----
{
 const x=d3.scaleLinear().domain([-20,20]).range([130,424]), y=d3.scaleLinear().domain([-20,20]).range([362,87]);
 const g=svg.append("g");
 const L=d3.line().curve(d3.curveCatmullRomClosed.alpha(.5)).x(d=>x(d[0])).y(d=>y(d[1]));
 outlinesA.forEach(o=>{const gap=o[0]===0,c=gap?"#fff":clusterColors[o[0]-1]; g.append("path").attr("d",L(pairs(o[1]))).attr("fill",c).attr("stroke",gap?"none":c).attr("stroke-width",2.2).attr("filter",gap?null:"url(#"+noiseFilter(.975,3,5)+")");});
 clusterLabels.forEach(l=>txt(g,l[0],x(l[1]),y(l[2])+8.5,24,{anchor:"middle",fill:l[3]?"#fff":"#000"}));
 const ax=d3.scaleLinear().domain([x.invert(84.5),x.invert(483)]).range([84.5,483]);
 const ay=d3.scaleLinear().domain([y.invert(421),y.invert(28)]).range([421,28]);
 const gx=svg.append("g").attr("transform","translate(0,421)").call(d3.axisBottom(ax).tickValues([-20,-10,0,10,20]).tickFormat(String).tickSizeOuter(0).tickSize(5).tickPadding(5));
 styleAxis(gx,23,2.4,2.2);
 const gy=svg.append("g").attr("transform","translate(84.5,0)").call(d3.axisLeft(ay).tickValues([-20,-10,0,10,20]).tickFormat(String).tickSizeOuter(0).tickSize(5).tickPadding(5));
 styleAxis(gy,23,2.4,2.2);
 mixed(svg,[["t",1],["-SNE1"]],277,478,31,{anchor:"middle"});
 mixed(svg,[["t",1],["-SNE2"]],38,226,31,{anchor:"middle",rot:-90});
 clusterNames.forEach((n,i)=>{const yy=29+27.73*i;
  svg.append("circle").attr("cx",512).attr("cy",yy).attr("r",9).attr("fill",legendColors[i]);
  txt(svg,n,529,yy+9.5,27.6);});
}

// ---- c ----
columnTitles.forEach(c=>txt(svg,c[0],c[1],558,36.4,{anchor:"middle"}));
smallPanels.forEach((p,pi)=>{
 const x=d3.scaleLinear().domain([-30,30]).range([p.cx-200,p.cx+200]), y=d3.scaleLinear().domain([-30,30]).range([p.cy+180,p.cy-180]);
 const g=svg.append("g");
 const L=d3.line().curve(d3.curveCatmullRomClosed.alpha(.5)).x(d=>x(d[0])).y(d=>y(d[1]));
 const rs=p.regions.concat([slash]);
 // scattered cells around each cloud, under the clouds themselves
 rs.forEach(r=>{ if(r[0]===0||r[1]<.2)return; const c=clusterColors[r[0]-1];
  g.append("path").attr("d",L(pairs(r[2]))).attr("fill","none").attr("stroke",c).attr("stroke-width",9).attr("filter","url(#"+noiseFilter(Math.round(r[1]*.22*50)/50,11+pi,3)+")");});
 rs.forEach(r=>{const gap=r[0]===0;
  g.append("path").attr("d",L(pairs(r[2]))).attr("fill",gap?"#fff":clusterColors[r[0]-1]).attr("filter",gap?null:"url(#"+noiseFilter(r[1],11+pi,4)+")");});
});
mixed(svg,[["Grn",1],["+/+",0,1]],38,795,38,{rot:-90});
mixed(svg,[["Grn",1],["-/-",0,1]],38,1122,38,{rot:-90});
calloutLabels.forEach(c=>txt(svg,c[0],c[1],c[2],30.8,{anchor:c[3]}));
svg.selectAll(".arrow").data(calloutArrows).enter().append("path").attr("d",a=>`M${a[0]},${a[1]}L${a[2]},${a[3]}L${a[4]},${a[5]}Z`).attr("fill","#000");

// ---- shared line+error series ----
function series(g,x,y,ages,v,hi,lo,color,sym,size,lw,cap){
 g.append("path").attr("d",d3.line().x((d,i)=>x(ages[i])).y(d=>y(d))(v)).attr("fill","none").attr("stroke",color).attr("stroke-width",lw).attr("stroke-linejoin","miter");
 ages.forEach((a,i)=>{const X=x(a);
  g.append("path").attr("d",`M${X},${y(lo[i])}V${y(hi[i])}M${X-cap},${y(hi[i])}H${X+cap}M${X-cap},${y(lo[i])}H${X+cap}`).attr("stroke",color).attr("stroke-width",3).attr("fill","none");
  g.append("path").attr("transform",sym.flip?`translate(${X},${y(v[i])}) rotate(180)`:`translate(${X},${y(v[i])})`).attr("d",d3.symbol().type(sym.t).size(size)()).attr("fill",color);
 });
}
function legendMark(g,x,yy,color,sym,size,w){
 g.append("line").attr("x1",x-w).attr("x2",x+w).attr("y1",yy).attr("y2",yy).attr("stroke",color).attr("stroke-width",3);
 g.append("path").attr("transform",`translate(${x},${yy})`+(sym.flip?" rotate(180)":"")).attr("d",d3.symbol().type(sym.t).size(size)()).attr("fill",color);
}
const Circ={t:d3.symbolCircle},Sq={t:d3.symbolSquare},Tri={t:d3.symbolTriangle},TriD={t:d3.symbolTriangle,flip:true},Dia={t:d3.symbolDiamond};

// ---- b ----
{
 const x=d3.scaleLinear().domain([5,20]).range([1196,1470]), y=d3.scaleLinear().domain([0,1.5]).range([426.7,137.3]);
 const ax=d3.scaleLinear().domain([x.invert(1161),20]).range([1161,1470]);
 const gx=svg.append("g").attr("transform","translate(0,426.7)").call(d3.axisBottom(ax).tickValues([5,10,15,20]).tickSizeOuter(0).tickSize(6).tickPadding(5));
 styleAxis(gx,22,3,2.6);
 const gy=svg.append("g").attr("transform","translate(1161,0)").call(d3.axisLeft(y).tickValues([0,.5,1,1.5]).tickFormat(d3.format(".1f")).tickSizeOuter(0).tickSize(6).tickPadding(2));
 styleAxis(gy,22,3,2.6);
 const g=svg.append("g");
 series(g,x,y,bAges,bInh,bInhHi,bInhLo,"#1f3dff",Dia,90,2,6);
 series(g,x,y,bAges,bExc,bExcHi,bExcLo,"#ff2a0d",TriD,120,3,8);
 series(g,x,y,bAges,bEndo,bEndoHi,bEndoLo,"#0a8a12",Tri,170,3.8,8.5);
 series(g,x,y,bAges,bMicroglia,bMicrogliaHi,bMicrogliaLo,"#f7941d",Circ,190,4,8.5);
 series(g,x,y,bAges,bAstro,bAstroHi,bAstroLo,"#00f2f2",Sq,160,3.8,6);
 bPvalues.forEach(p=>mixed(svg,[["P",1],[" = "+p[0]]],p[1],p[2],22.3));
 [[1057.5,32,"#f7941d",Circ,"Microglia (c4)",39.5],[1057.5,64.5,"#00f2f2",Sq,"Astrocyte (c7)",72],[1057.5,97.5,"#0a8a12",Tri,"Endothelial cells (c8)",105]].forEach(l=>{legendMark(svg,l[0],l[1],l[2],l[3],140,10.5);txt(svg,l[4],1077,l[5],22.5);});
 legendMark(svg,1315,32,"#ff2a0d",TriD,110,10.5); txt(svg,"Excitatory neurons",1332,40,22.5); txt(svg,"(c3, c12, c13)",1332,66,22.5);
 legendMark(svg,1315,87,"#1f3dff",Dia,90,10.5); txt(svg,"Inhibitory neurons",1332,94,22.5); txt(svg,"(c6, c9)",1332,120,22.5);
 mixed(svg,[["Relative "],["Grn",1],[" mRNA"]],1072,276,29,{anchor:"middle",rot:-90});
 txt(svg,"expression",1107,277,29,{anchor:"middle",rot:-90});
 txt(svg,"Age (months)",1314.7,485,29.7,{anchor:"middle"});
}

// ---- d, e ----
function panelDE(o){
 const x=d3.scaleLinear().domain([0,20]).range([o.x0,o.x1]), y=d3.scaleLinear().domain([0,o.ymax]).range([o.y0,o.y1]);
 const gx=svg.append("g").attr("transform",`translate(0,${o.y0})`).call(d3.axisBottom(x).tickValues([0,5,10,15,20]).tickSizeOuter(0).tickSize(5).tickPadding(5));
 styleAxis(gx,23,3.2,2.6);
 const gy=svg.append("g").attr("transform",`translate(${o.x0},0)`).call(d3.axisLeft(y).tickValues(o.yt).tickFormat(d3.format("d")).tickSizeOuter(0).tickSize(5).tickPadding(2));
 styleAxis(gy,23,3.2,2.6);
 const g=svg.append("g");
 series(g,x,y,deAges,o.ko,o.koHi,o.koLo,"#ff2a0d",Sq,130,3.2,7.5);
 series(g,x,y,deAges,o.wt,o.wtHi,o.wtLo,"#000",Circ,150,3.2,7.5);
 legendMark(svg,o.lx,1350.7,"#000",Circ,130,9.5);
 legendMark(svg,o.lx,1378,"#ff2a0d",Sq,120,9.5);
 mixed(svg,[["Grn",1],["+/+",1,1]],o.lx+19.5,1360,24);
 mixed(svg,[["Grn",1],["-/-",1,1]],o.lx+19.5,1388,24);
 txt(svg,o.title,o.tc,o.ty,29,{anchor:"middle"});
 txt(svg,"Normalized cell number",o.yx,o.yc,29,{anchor:"middle",rot:-90});
 txt(svg,"Age (months)",o.tc,1710,29,{anchor:"middle"});
 o.ps.forEach(p=>mixed(svg,[["P",1],[" = "+p[0]]],p[1],p[2],24.5));
}
panelDE({x0:105,x1:484,y0:1653.3,y1:1349.3,ymax:2000,yt:[0,500,1000,1500,2000],wt:dWT,wtHi:dWTHi,wtLo:dWTLo,ko:dKO,koHi:dKOHi,koLo:dKOLo,lx:126,title:"Microglia (c4)",tc:295,ty:1317,yx:39,yc:1493,ps:[["0.002",365,1385],["0.004",234,1551]]});
panelDE({x0:630,x1:1009.3,y0:1651,y1:1348,ymax:12000,yt:[0,5000,10000],wt:eWT,wtHi:eWTHi,wtLo:eWTLo,ko:eKO,koHi:eKOHi,koLo:eKOLo,lx:651.7,title:"Excitatory neurons (c3, c12, c13)",tc:820,ty:1320,yx:555,yc:1492,ps:[["0.002",919,1474]]});

// ---- f ----
{
 const x=d3.scaleLinear().domain([0,8]).range([1173.3,1514.7]), y=d3.scaleLinear().domain([0,15]).range([1640,1336]);
 const band=32.7;
 const ax=d3.scaleLinear().domain([x.invert(1148.3),x.invert(1540)]).range([1148.3,1540]);
 const ay=d3.scaleLinear().domain([y.invert(1653.4),y.invert(1330)]).range([1653.4,1330]);
 const gx=svg.append("g").attr("transform","translate(0,1653.4)").call(d3.axisBottom(ax).tickValues([]).tickSizeOuter(0));
 styleAxis(gx,20,2,1.5);
 const gy=svg.append("g").attr("transform","translate(1148.3,0)").call(d3.axisLeft(ay).tickValues([0,5,10,15]).tickSizeOuter(0).tickSize(2).tickPadding(3));
 styleAxis(gy,20,2,1.5);
 const g=svg.append("g");
 fCats.forEach((c,i)=>{const X=x(i);
  g.append("line").attr("x1",X).attr("x2",X).attr("y1",y(fWhiskLo[i])).attr("y2",y(fWhiskHi[i])).attr("stroke","#333").attr("stroke-width",1.6);
  g.append("rect").attr("x",X-band/2).attr("width",band).attr("y",y(fQ3[i])).attr("height",y(fQ1[i])-y(fQ3[i])).attr("fill","#fb756c").attr("stroke","#333").attr("stroke-width",1.6);
  g.append("line").attr("x1",X-band/2).attr("x2",X+band/2).attr("y1",y(fMed[i])).attr("y2",y(fMed[i])).attr("stroke","#333").attr("stroke-width",3.2);
  txt(svg,c,X+10,1663,20.5,{anchor:"end",rot:-41}).attr("dominant-baseline","middle");
 });
 fBrackets.forEach(b=>{
  svg.append("path").attr("d",`M${x(b[0])},${y(b[1])}V${y(b[2])}H${x(b[3])}V${y(b[4])}`).attr("fill","none").attr("stroke","#111").attr("stroke-width",1.6);
  svg.append("line").attr("x1",x(b[5])).attr("x2",x(b[6])).attr("y1",y(b[4])).attr("y2",y(b[4])).attr("stroke","#111").attr("stroke-width",1.8);
  mixed(svg,[["P",1],[" = "+b[7]]],1508,y(b[8]),20.5,{anchor:"end"});
 });
 txt(svg,"19 months",1157,1310,29);
 txt(svg,"#DEGs/1000 genes expressed",1108,1503,25.5,{anchor:"middle",rot:-90});
}
</script></body></html>
